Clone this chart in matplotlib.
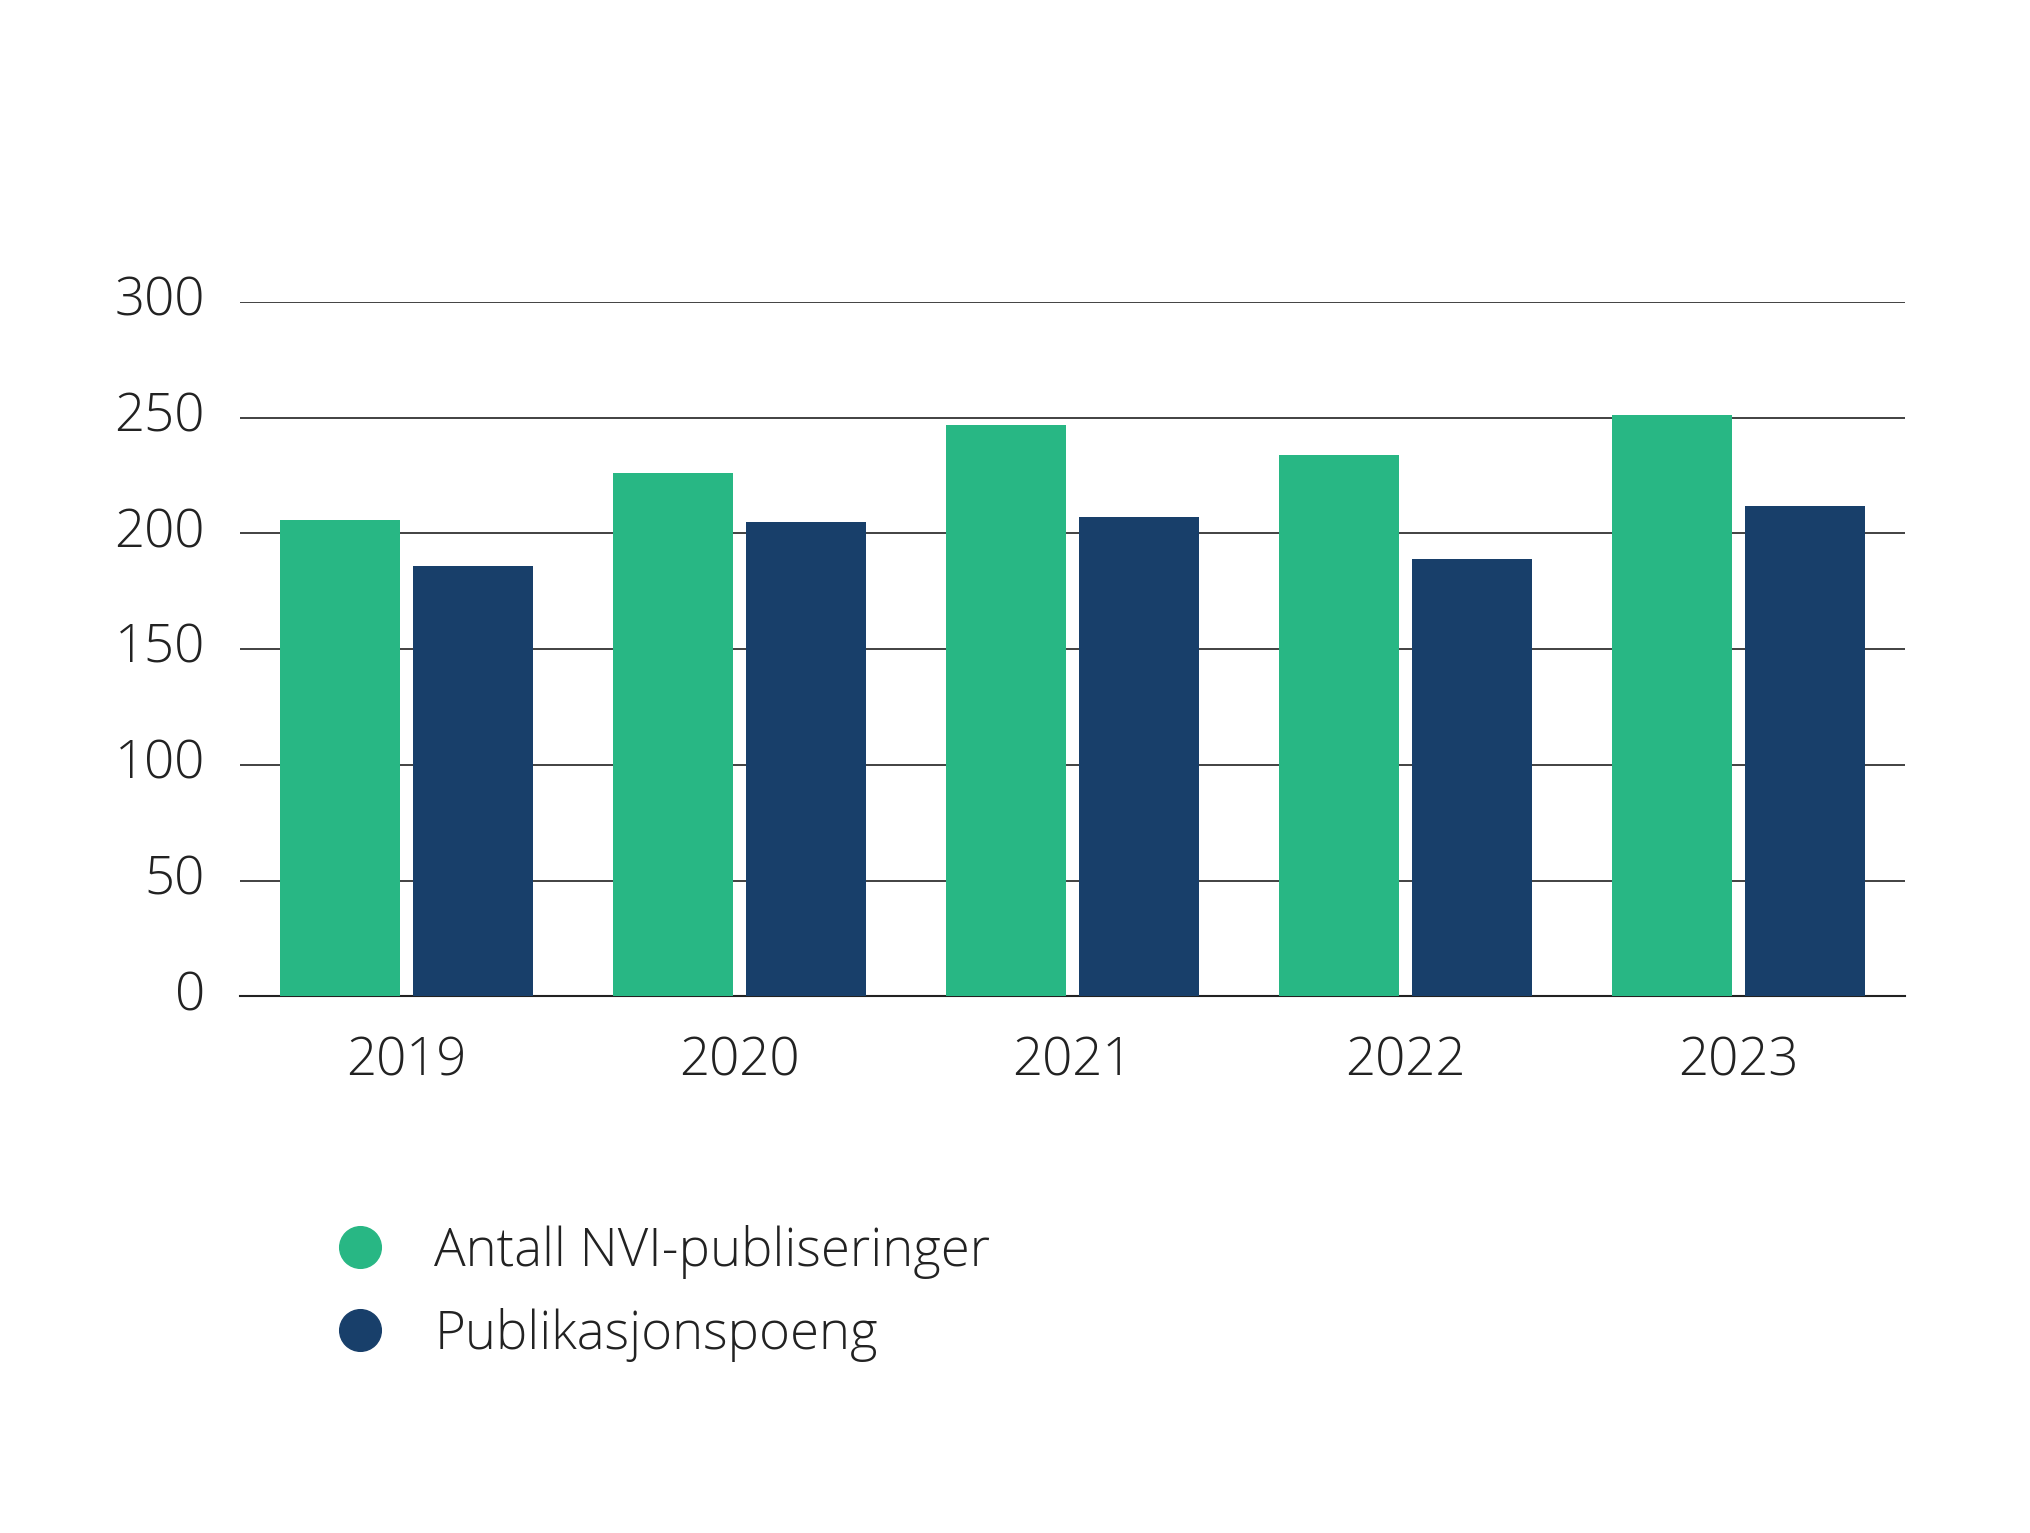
import matplotlib
matplotlib.use("Agg")
import matplotlib.pyplot as plt
from matplotlib.lines import Line2D
import numpy as np

years = ["2019", "2020", "2021", "2022", "2023"]
nvi = [206, 226, 247, 234, 251]
poeng = [186, 205, 207, 189, 212]
labels = ["Antall NVI-publiseringer", "Publikasjonspoeng"]
colors = ["#28b784", "#183f6a"]

plt.rcParams['font.family'] = ['Open Sans', 'DejaVu Sans']
plt.rcParams['font.weight'] = 'light'
fig = plt.figure(figsize=(20.31, 15.33), dpi=100)
ax = fig.add_axes([0.118, 0.35, 0.82, 0.453])
x = np.arange(len(years))
w = 0.36
ax.bar(x - 0.2, nvi, w, color=colors[0], zorder=3)
ax.bar(x + 0.2, poeng, w, color=colors[1], zorder=3)
ax.set_xlim(-0.5, 4.5)
ax.set_ylim(0, 300)
ax.set_yticks(range(0, 301, 50))
ax.yaxis.grid(True, color="#333333", linewidth=1.3, zorder=0)
ax.set_xticks(x)
ax.set_xticklabels(years)
ax.tick_params(axis='both', length=0, labelsize=38, colors="#222222")
ax.tick_params(axis='x', pad=28)
ax.tick_params(axis='y', pad=25)
for s in ["top", "right", "left"]:
    ax.spines[s].set_visible(False)
ax.spines["bottom"].set_color("#222222")
ax.spines["bottom"].set_linewidth(1.5)
for lab in ax.get_yticklabels():
    lab.set_verticalalignment('center')

handles = [Line2D([], [], marker='o', linestyle='none', markersize=30, color=c) for c in colors]
fig.legend(handles, labels, loc='upper left', bbox_to_anchor=(0.128, 0.232),
           frameon=False, fontsize=38, labelspacing=0.55, handletextpad=0.4,
           labelcolor="#222222")
fig.savefig("out.png", dpi=100)
